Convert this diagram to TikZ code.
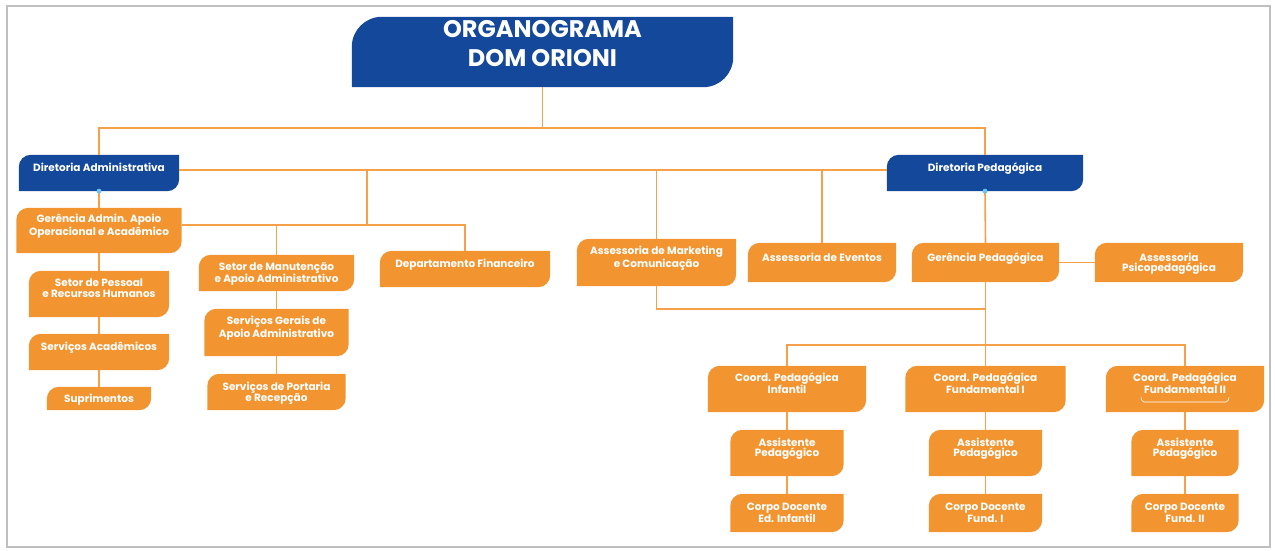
\documentclass[tikz,border=0pt]{standalone}
\usepackage{fontspec}
\setmainfont{Poppins}
\usetikzlibrary{backgrounds}

\definecolor{orgblue}{HTML}{14489B}
\definecolor{orgorange}{HTML}{F29531}
\definecolor{orgline}{HTML}{F6A049}
\definecolor{orgdot}{HTML}{6CC5F0}

\newcommand{\boxfont}{\fontsize{10.5}{10.5}\selectfont\bfseries}
\newcommand{\titlefont}{\fontsize{24}{29}\selectfont\bfseries}

% box with rounded top-left and bottom-right corners
\newcommand{\boxfill}[3]{%
  \fill[#2] (#1.south west) -- ([yshift=-#3]#1.north west)
    arc[start angle=180, end angle=90, radius=#3] -- (#1.north east)
    -- ([yshift=#3]#1.south east)
    arc[start angle=0, end angle=-90, radius=#3] -- cycle;}

\begin{document}
\begin{tikzpicture}[x=1pt, y=-1pt,
  orgbox/.style={text=white, align=center, inner sep=0pt, font=\boxfont, text depth=11.4pt},
  flat/.style={text depth=0.5pt},
  link/.style={orgline, line width=1.6pt}]

\useasboundingbox (0,0) rectangle (1275,550);
\draw[black!25, line width=1.5pt] (7,6) rectangle (1270,547);

% title and boards
\node[orgbox, font=\titlefont, text depth=17pt, minimum width=381pt, minimum height=70pt] (title) at (542.5,52) {ORGANOGRAMA\\DOM ORIONI};
\node[orgbox, minimum width=160pt, minimum height=36pt] (da) at (99,173) {Diretoria Administrativa};
\node[orgbox, minimum width=196pt, minimum height=36pt] (dp) at (985,173) {Diretoria Pedagógica};

% administrative side
\node[orgbox, minimum width=165pt, minimum height=45pt] (ga) at (99,230.5) {Gerência Admin. Apoio\\Operacional e Acadêmico};
\node[orgbox, minimum width=140pt, minimum height=46pt] (sp) at (99,294) {Setor de Pessoal\\e Recursos Humanos};
\node[orgbox, minimum width=140pt, minimum height=36pt] (sa) at (99,352) {Serviços Acadêmicos};
\node[orgbox, flat, minimum width=104pt, minimum height=23pt] (su) at (99,398.5) {Suprimentos};
\node[orgbox, flat, minimum width=155pt, minimum height=36pt] (sm) at (276.5,273) {Setor de Manutenção\\e Apoio Administrativo};
\node[orgbox, minimum width=144pt, minimum height=47pt] (sg) at (276.5,332.5) {Serviços Gerais de\\Apoio Administrativo};
\node[orgbox, flat, minimum width=138pt, minimum height=36pt] (pr) at (276.5,392) {Serviços de Portaria\\e Recepção};
\node[orgbox, minimum width=170pt, minimum height=36pt] (fin) at (465,269) {Departamento Financeiro};

% pedagogical side
\node[orgbox, minimum width=159pt, minimum height=47pt] (mkt) at (656.5,262.5) {Assessoria de Marketing\\e Comunicação};
\node[orgbox, minimum width=148pt, minimum height=39pt] (ev) at (822,262.5) {Assessoria de Eventos};
\node[orgbox, minimum width=147pt, minimum height=39pt] (gp) at (985.5,262.5) {Gerência Pedagógica};
\node[orgbox, flat, minimum width=148pt, minimum height=39pt] (psi) at (1169,262.5) {Assessoria\\Psicopedagógica};

\node[orgbox, minimum width=158pt, minimum height=46pt] (ci) at (787,389) {Coord. Pedagógica\\Infantil};
\node[orgbox, minimum width=160pt, minimum height=46pt] (cf1) at (985.5,389) {Coord. Pedagógica\\Fundamental I};
\node[orgbox, minimum width=158pt, minimum height=46pt] (cf2) at (1185,389) {Coord. Pedagógica\\Fundamental II};
\node[orgbox, minimum width=113pt, minimum height=46pt] (ai) at (787,453) {Assistente\\Pedagógico};
\node[orgbox, minimum width=113pt, minimum height=46pt] (af1) at (985.5,453) {Assistente\\Pedagógico};
\node[orgbox, minimum width=107pt, minimum height=46pt] (af2) at (1185,453) {Assistente\\Pedagógico};
\node[orgbox, flat, minimum width=113pt, minimum height=38pt] (di) at (787,513) {Corpo Docente\\Ed. Infantil};
\node[orgbox, flat, minimum width=113pt, minimum height=38pt] (df1) at (985.5,513) {Corpo Docente\\Fund. I};
\node[orgbox, flat, minimum width=107pt, minimum height=38pt] (df2) at (1185,513) {Corpo Docente\\Fund. II};

\begin{scope}[on background layer]
  \boxfill{title}{orgblue}{30pt}
  \foreach \n in {da,dp} {\boxfill{\n}{orgblue}{12pt}}
  \foreach \n in {ga,sp,sa,su,sm,sg,pr,fin,mkt,ev,gp,psi,ci,cf1,cf2,ai,af1,af2,di,df1,df2}
    {\boxfill{\n}{orgorange}{12pt}}
\end{scope}

\coordinate (rowt) at (0,128);
\coordinate (rowb) at (0,225);
\coordinate (rowc) at (0,309);
\coordinate (rowd) at (0,345);
\coordinate (jadm) at (367,170);

% connectors
\draw[link] (title.south) -- (title.south |- rowt);
\draw[link] (da.north) |- (title.south |- rowt) -| (dp.north);
\draw[link] ([yshift=3pt]da.east) -- ([yshift=3pt]dp.west);
\draw[link] (jadm) -- (jadm |- rowb);
\draw[link] (mkt.north) -- (mkt.north |- jadm);
\draw[link] (ev.north) -- (ev.north |- jadm);

\draw[link] (da.south) -- (ga.north);
\draw[link] (ga.south) -- (sp.north);
\draw[link] (sp.south) -- (sa.north);
\draw[link] (sa.south) -- (su.north);
\draw[link] ([yshift=5.5pt]ga.east) -| (fin.north);
\draw[link] (sm.north) -- (sm.north |- rowb);
\draw[link] (sm.south) -- (sg.north);
\draw[link] (sg.south) -- (pr.north);

\draw[link] (dp.south) -- (gp.north);
\draw[link] (gp.east) -- (psi.west);
\draw[link] (mkt.south) |- (gp.south |- rowc);
\draw[link] (gp.south) -- (cf1.north);
\draw[link] (ci.north) |- (gp.south |- rowd) -| (cf2.north);
\foreach \c/\a/\d in {ci/ai/di, cf1/af1/df1, cf2/af2/df2} {
  \draw[link] (\c.south) -- (\a.north);
  \draw[link] (\a.south) -- (\d.north);
}

\fill[orgdot] (da.south) circle (2.5pt);
\fill[orgdot] (dp.south) circle (2.5pt);
\draw[white, line width=0.6pt, rounded corners=2pt] (1141,397) -- (1142,402) -- (1228,402) -- (1229,397);

\end{tikzpicture}
\end{document}
